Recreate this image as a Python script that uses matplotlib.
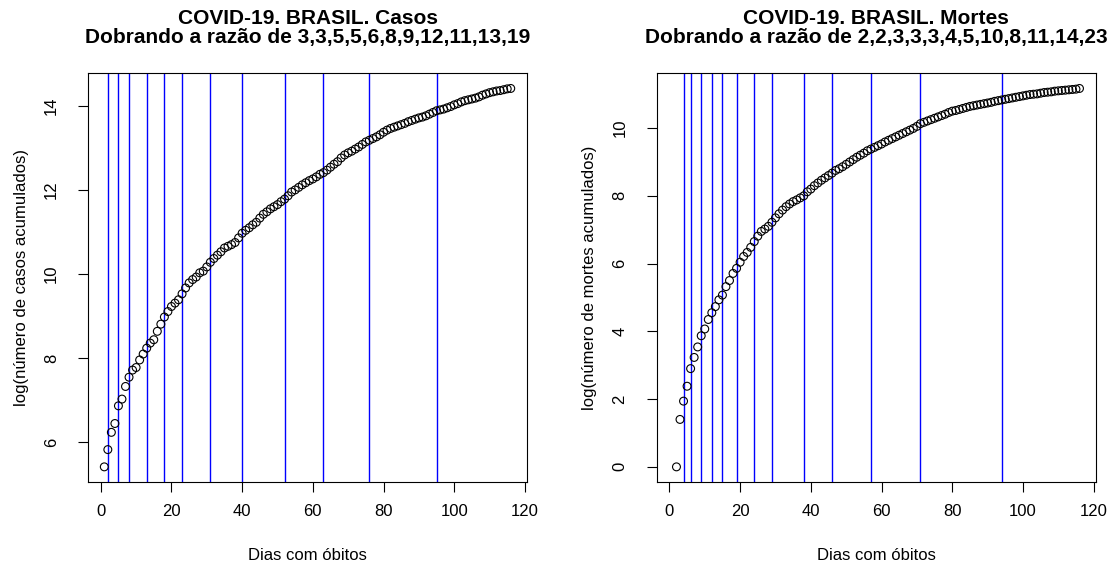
import numpy as np
import matplotlib
matplotlib.use("Agg")
from matplotlib import pyplot as plt

plt.rcParams["font.family"] = ["Liberation Sans", "DejaVu Sans"]

# log(casos acumulados), dias 1..116
dias_casos = list(range(1, 117))
log_casos = [
    5.42, 5.83, 6.24, 6.45, 6.87, 7.03, 7.33, 7.55, 7.72, 7.78,
    7.96, 8.10, 8.24, 8.36, 8.44, 8.64, 8.81, 8.98, 9.11, 9.23,
    9.31, 9.39, 9.53, 9.67, 9.79, 9.87, 9.93, 10.03, 10.07, 10.17,
    10.28, 10.37, 10.45, 10.53, 10.62, 10.66, 10.70, 10.75, 10.86, 10.97,
    11.04, 11.10, 11.17, 11.23, 11.33, 11.42, 11.48, 11.55, 11.60, 11.65,
    11.72, 11.78, 11.86, 11.95, 12.00, 12.06, 12.12, 12.17, 12.22, 12.26,
    12.31, 12.37, 12.41, 12.47, 12.54, 12.61, 12.67, 12.76, 12.83, 12.88,
    12.92, 12.97, 13.02, 13.08, 13.14, 13.18, 13.22, 13.26, 13.31, 13.37,
    13.42, 13.46, 13.49, 13.52, 13.55, 13.58, 13.62, 13.65, 13.68, 13.71,
    13.73, 13.76, 13.80, 13.84, 13.88, 13.90, 13.92, 13.95, 13.98, 14.02,
    14.05, 14.09, 14.12, 14.14, 14.16, 14.18, 14.21, 14.25, 14.28, 14.31,
    14.33, 14.35, 14.36, 14.38, 14.40, 14.41,
]

# log(mortes acumuladas), dias 2..116 (dia 1: log(0) nao aparece)
dias_mortes = list(range(2, 117))
log_mortes = [
    0.00, 1.40, 1.94, 2.38, 2.90, 3.23, 3.54, 3.87, 4.07,
    4.35, 4.55, 4.73, 4.93, 5.07, 5.32, 5.50, 5.71, 5.86, 6.04,
    6.21, 6.33, 6.48, 6.65, 6.81, 6.95, 7.02, 7.10, 7.22, 7.35,
    7.47, 7.58, 7.68, 7.76, 7.83, 7.88, 7.94, 8.00, 8.12, 8.20,
    8.30, 8.38, 8.46, 8.53, 8.60, 8.67, 8.75, 8.80, 8.86, 8.93,
    9.00, 9.07, 9.14, 9.20, 9.26, 9.33, 9.38, 9.43, 9.48, 9.53,
    9.59, 9.64, 9.69, 9.74, 9.79, 9.84, 9.89, 9.94, 9.99, 10.05,
    10.13, 10.17, 10.21, 10.25, 10.29, 10.33, 10.37, 10.41, 10.46, 10.50,
    10.52, 10.55, 10.58, 10.61, 10.64, 10.66, 10.68, 10.70, 10.72, 10.74,
    10.76, 10.79, 10.81, 10.83, 10.85, 10.87, 10.89, 10.91, 10.93, 10.95,
    10.97, 10.99, 11.00, 11.01, 11.03, 11.05, 11.06, 11.07, 11.09, 11.10,
    11.11, 11.12, 11.13, 11.14, 11.15, 11.17,
]

# dias em que o numero dobrou (linhas azuis)
dobra_casos = [2, 5, 8, 13, 18, 23, 31, 40, 52, 63, 76, 95]
dobra_mortes = [4, 6, 9, 12, 15, 19, 24, 29, 38, 46, 57, 71, 94]

titulos = [
    "COVID-19. BRASIL. Casos\nDobrando a razão de 3,3,5,5,6,8,9,12,11,13,19",
    "COVID-19. BRASIL. Mortes\nDobrando a razão de 2,2,3,3,3,4,5,10,8,11,14,23",
]
ylabels = ["log(número de casos acumulados)", "log(número de mortes acumulados)"]
yticks = [[6, 8, 10, 12, 14], [0, 2, 4, 6, 8, 10]]


def r_lim(v):
    lo, hi = min(v), max(v)
    d = 0.04 * (hi - lo)
    return lo - d, hi + d


fig = plt.figure(figsize=(11.13, 5.64), dpi=100)
axes = [fig.add_axes([0.0791, 0.1454, 0.3944, 0.7246]),
        fig.add_axes([0.5900, 0.1454, 0.3945, 0.7246])]

series = [(dias_casos, log_casos, dobra_casos), (dias_mortes, log_mortes, dobra_mortes)]

for i, ax in enumerate(axes):
    x, y, dobra = series[i]
    for d in dobra:
        ax.axvline(d, color="blue", lw=1.0, zorder=1)
    ax.scatter(x, y, s=32, facecolors="none", edgecolors="black", linewidths=0.8, zorder=2)
    ax.set_xlim(r_lim(dias_casos))
    ax.set_ylim(r_lim(y))
    ax.set_xticks([0, 20, 40, 60, 80, 100, 120])
    ax.set_yticks(yticks[i])
    ax.tick_params(axis="x", length=7, width=0.8, labelsize=12, pad=9)
    ax.tick_params(axis="y", length=7, width=0.8, labelsize=12, pad=14)
    for lab in ax.get_yticklabels():
        lab.set_rotation(90)
        lab.set_va("center")
    for s in ax.spines.values():
        s.set_linewidth(0.8)
    ax.set_title(titulos[i], fontsize=15, fontweight="bold", linespacing=1.0, pad=22)
    ax.set_xlabel("Dias com óbitos", fontsize=12, labelpad=21)
    ax.set_ylabel(ylabels[i], fontsize=12, labelpad=11)

fig.savefig("out.png", dpi=100)
